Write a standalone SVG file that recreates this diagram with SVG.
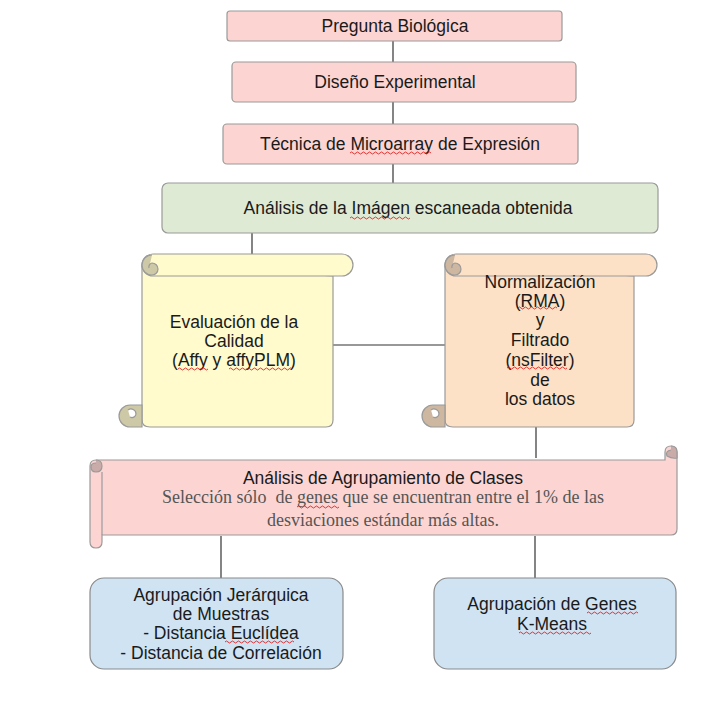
<svg xmlns="http://www.w3.org/2000/svg" width="713" height="702" viewBox="0 0 713 702">
<style>
.t{font-family:"Liberation Sans",Arial,sans-serif;font-size:17.5px;fill:#1a1a1a;text-anchor:middle}
.s{font-family:"Liberation Serif","Times New Roman",serif;font-size:18px;fill:#555;text-anchor:middle;white-space:pre}
.pink{fill:#fcd5d3;stroke:#9a9a9a;stroke-width:1.2}
.green{fill:#dfead5;stroke:#9a9a9a;stroke-width:1.2}
.blue{fill:#cfe3f3;stroke:#8a8a8a;stroke-width:1.2}
.yel{fill:#fffbcd;stroke:#9a9a9a;stroke-width:1.2}
.pch{fill:#fde1c6;stroke:#9a9a9a;stroke-width:1.2}
.curlY{fill:#cdc8a6;stroke:#9a9a9a;stroke-width:1.2}
.curlP{fill:#cdb7a0;stroke:#9a9a9a;stroke-width:1.2}
.curlK{fill:#c9acaa;stroke:#9a9a9a;stroke-width:1.2}
.ln{stroke:#333;stroke-width:1.2;fill:none}
.sq{stroke:#e02020;stroke-width:0.9;fill:none}
</style>
<rect width="713" height="702" fill="#fff"/>
<g id="connectors">
<line class="ln" x1="393" y1="41" x2="393" y2="62"/>
<line class="ln" x1="393" y1="102" x2="393" y2="124"/>
<line class="ln" x1="393" y1="164" x2="393" y2="183"/>
<line class="ln" x1="252" y1="233" x2="252" y2="255"/>
<line class="ln" x1="333" y1="345" x2="445" y2="345"/>
<line class="ln" x1="536" y1="427" x2="536" y2="458"/>
<line class="ln" x1="221" y1="536" x2="221" y2="578"/>
<line class="ln" x1="535" y1="536" x2="535" y2="578"/>
</g>
<g id="n1">
<rect class="pink" x="227" y="11" width="335" height="30" rx="3"/>
<text class="t" x="395" y="32">Pregunta Biológica</text>
</g>
<g id="n2">
<rect class="pink" x="232" y="62" width="344" height="40" rx="4"/>
<text class="t" x="395" y="88">Diseño Experimental</text>
</g>
<g id="n3">
<rect class="pink" x="223" y="124" width="355" height="40" rx="4"/>
<text class="t" x="400" y="150">Técnica de Microarray de Expresión</text>
<path class="sq" d="M350 153 q1.5 -2 3 0 t3 0 t3 0 t3 0 t3 0 t3 0 t3 0 t3 0 t3 0 t3 0 t3 0 t3 0 t3 0 t3 0 t3 0 t3 0 t3 0 t3 0 t3 0 t3 0 t3 0 t3 0 t3 0 t3 0 t3 0 t3 0 t3 0"/>
</g>
<g id="n4">
<rect class="green" x="162" y="183" width="496" height="50" rx="6"/>
<text class="t" x="408" y="214">Análisis de la Imágen escaneada obtenida</text>
<path class="sq" d="M350 218 q1.5 -2 3 0 t3 0 t3 0 t3 0 t3 0 t3 0 t3 0 t3 0 t3 0 t3 0 t3 0 t3 0 t3 0 t3 0 t3 0 t3 0 t3 0 t3 0 t3 0 t3 0"/>
</g>
<g id="n5">
<path class="yel" d="M142 265 L142 420 Q142 427 150 427 L326 427 Q333 427 333 420 L333 276 Z"/>
<rect class="yel" x="142" y="254" width="211" height="22" rx="11"/>
<path class="curlY" d="M152 255 a10 10 0 0 0 0 20 a6 6 0 0 0 0 -12 a4 4 0 0 0 -3 5"/>
<path class="curlY" d="M130 405 a11 11 0 0 0 0 22 L142 427 L142 405 Z M128 410 a5 5 0 0 1 8 4 a4 4 0 0 1 -6 3"/>
<text class="t" x="234" y="328">Evaluación de la</text>
<text class="t" x="234" y="347">Calidad</text>
<text class="t" x="234" y="366">(Affy y affyPLM)</text>
<path class="sq" d="M178 369 q1.5 -2 3 0 t3 0 t3 0 t3 0 t3 0 t3 0 t3 0 t3 0 t3 0 t3 0"/>
<path class="sq" d="M229 369 q1.5 -2 3 0 t3 0 t3 0 t3 0 t3 0 t3 0 t3 0 t3 0 t3 0 t3 0 t3 0 t3 0 t3 0 t3 0 t3 0 t3 0 t3 0 t3 0 t3 0 t3 0 t3 0"/>
</g>
<g id="n6">
<path class="pch" d="M445 265 L445 420 Q445 427 453 427 L627 427 Q634 427 634 420 L634 276 Z"/>
<rect class="pch" x="445" y="254" width="212" height="22" rx="11"/>
<path class="curlP" d="M455 255 a10 10 0 0 0 0 20 a6 6 0 0 0 0 -12 a4 4 0 0 0 -3 5"/>
<path class="curlP" d="M433 405 a11 11 0 0 0 0 22 L445 427 L445 405 Z M431 410 a5 5 0 0 1 8 4 a4 4 0 0 1 -6 3"/>
<text class="t" x="540" y="288">Normalización</text>
<text class="t" x="540" y="307">(RMA)</text>
<text class="t" x="540" y="326">y</text>
<text class="t" x="540" y="346">Filtrado</text>
<text class="t" x="540" y="366">(nsFilter)</text>
<text class="t" x="540" y="386">de</text>
<text class="t" x="540" y="405">los datos</text>
<path class="sq" d="M518 308 q1.5 -2 3 0 t3 0 t3 0 t3 0 t3 0 t3 0 t3 0 t3 0 t3 0 t3 0 t3 0 t3 0 t3 0"/>
<path class="sq" d="M507 368 q1.5 -2 3 0 t3 0 t3 0 t3 0 t3 0 t3 0 t3 0 t3 0 t3 0 t3 0 t3 0 t3 0 t3 0 t3 0 t3 0 t3 0 t3 0 t3 0 t3 0 t3 0"/>
</g>
<g id="n7">
<path class="pink" d="M96 460 L665 460 L665 452 Q665 446 671 446 Q677 446 677 452 L677 529 Q677 535 671 535 L102 535 L102 542 Q102 548 96 548 Q90 548 90 542 L90 466 Q90 460 96 460 Z"/>
<path class="curlK" d="M96 460 Q102 460 102 466 Q102 472 96 472 Q91 472 91 467 Q91 463 96 463"/>
<path class="curlK" d="M671 446 Q677 446 677 452 L677 458 Q672 459 667 456 Q665 451 671 450"/>
<line class="ln" x1="102" y1="472" x2="102" y2="535" style="stroke:#9a9a9a"/>
<text class="t" x="383" y="484">Análisis de Agrupamiento de Clases</text>
<text class="s" x="383" y="503">Selección sólo  de genes que se encuentran entre el 1% de las</text>
<text class="s" x="383" y="526">desviaciones estándar más altas.</text>
<path class="sq" d="M297 507 q1.5 -2 3 0 t3 0 t3 0 t3 0 t3 0 t3 0 t3 0 t3 0 t3 0 t3 0 t3 0 t3 0 t3 0 t3 0"/>
</g>
<g id="n8">
<rect class="blue" x="90" y="578" width="253" height="91" rx="14"/>
<text class="t" x="221" y="601">Agrupación Jerárquica</text>
<text class="t" x="221" y="620">de Muestras</text>
<text class="t" x="221" y="639">- Distancia Euclídea</text>
<text class="t" x="221" y="659">- Distancia de Correlación</text>
<path class="sq" d="M225 642 q1.5 -2 3 0 t3 0 t3 0 t3 0 t3 0 t3 0 t3 0 t3 0 t3 0 t3 0 t3 0 t3 0 t3 0 t3 0 t3 0 t3 0 t3 0 t3 0 t3 0 t3 0 t3 0 t3 0 t3 0"/>
</g>
<g id="n9">
<rect class="blue" x="434" y="578" width="242" height="91" rx="14"/>
<text class="t" x="552" y="610">Agrupación de Genes</text>
<text class="t" x="552" y="630">K-Means</text>
<path class="sq" d="M587 613 q1.5 -2 3 0 t3 0 t3 0 t3 0 t3 0 t3 0 t3 0 t3 0 t3 0 t3 0 t3 0 t3 0 t3 0 t3 0 t3 0 t3 0 t3 0"/>
<path class="sq" d="M519 633 q1.5 -2 3 0 t3 0 t3 0 t3 0 t3 0 t3 0 t3 0 t3 0 t3 0 t3 0 t3 0 t3 0 t3 0 t3 0 t3 0 t3 0 t3 0 t3 0 t3 0 t3 0 t3 0 t3 0 t3 0 t3 0"/>
</g>
</svg>
